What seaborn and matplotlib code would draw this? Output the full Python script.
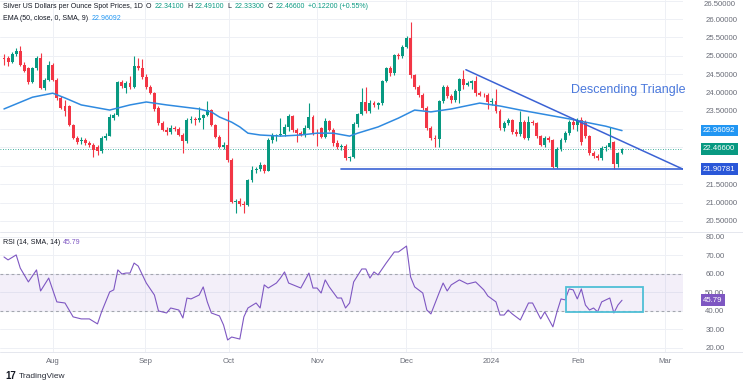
import numpy as np
import pandas as pd
import matplotlib
matplotlib.use('Agg')
import matplotlib.pyplot as plt
import matplotlib.transforms as mtransforms
from matplotlib.patches import Rectangle
import seaborn as sns

# daily candles, silver spot (XAGUSD), mid Jul 2023 -> 15 Feb 2024
opens = [24.93, 24.95, 24.83, 25.05, 25.12, 24.75, 24.66, 24.28, 24.66, 24.94,
         24.12, 24.34, 24.75, 24.34, 23.85, 23.62, 23.62, 23.11, 22.76, 22.68,
         22.70, 22.62, 22.57, 22.50, 22.40, 22.76, 22.82, 23.30, 23.38, 24.28,
         24.12, 24.25, 24.15, 24.72, 24.66, 24.42, 24.15, 23.98, 23.57, 23.17,
         22.98, 22.92, 23.03, 23.00, 22.84, 22.67, 23.25, 23.28, 23.24, 23.30,
         23.38, 23.52, 23.11, 22.79, 22.51, 22.58, 22.16, 21.01, 21.05, 20.97,
         20.93, 21.61, 21.89, 21.92, 22.02, 21.87, 22.70, 22.80, 22.84, 22.87,
         23.06, 23.35, 22.98, 22.90, 22.84, 23.03, 23.32, 22.90, 23.03, 22.78,
         23.22, 22.98, 22.62, 22.50, 22.55, 22.20, 22.24, 23.14, 23.41, 23.74,
         23.50, 23.72, 23.66, 23.70, 24.31, 24.66, 24.52, 25.02, 24.98, 25.24,
         25.48, 24.47, 24.15, 23.93, 23.58, 23.03, 22.76, 22.72, 23.77, 24.15,
         23.90, 23.80, 24.05, 24.36, 24.20, 24.25, 24.30, 23.98, 23.94, 23.92,
         23.74, 23.78, 23.50, 23.03, 23.17, 23.25, 22.92, 22.87, 23.20, 22.76,
         23.20, 23.17, 22.80, 22.57, 22.76, 22.70, 21.98, 22.47, 22.70, 22.90,
         23.20, 23.10, 23.24, 23.20, 22.80, 22.35, 22.28, 22.20, 22.48, 22.52,
         22.65, 22.05, 22.341]
highs = [25.05, 25.00, 25.10, 25.22, 25.26, 24.82, 24.70, 24.70, 25.00, 25.08,
         24.40, 24.85, 24.80, 24.40, 23.90, 23.80, 23.66, 23.15, 22.80, 22.78,
         22.75, 22.68, 22.62, 22.56, 22.80, 22.90, 23.40, 23.45, 24.32, 24.35,
         24.30, 24.45, 25.00, 24.95, 24.90, 24.50, 24.20, 24.02, 23.62, 23.22,
         23.05, 23.10, 23.08, 23.05, 22.90, 23.30, 23.35, 23.34, 23.60, 23.42,
         23.76, 23.55, 23.15, 22.85, 22.64, 23.50, 22.20, 21.10, 21.12, 21.05,
         21.65, 22.00, 21.98, 22.10, 22.05, 22.75, 22.90, 22.88, 23.30, 23.15,
         23.40, 23.38, 23.02, 22.95, 23.10, 23.72, 23.38, 23.00, 23.05, 23.30,
         23.25, 23.02, 22.70, 22.60, 22.60, 22.28, 23.20, 23.45, 24.12, 24.15,
         23.80, 23.78, 23.75, 24.35, 24.70, 24.72, 25.05, 25.08, 25.30, 25.55,
         25.92, 24.50, 24.20, 23.98, 23.62, 23.08, 22.85, 23.80, 24.20, 24.20,
         23.95, 24.10, 24.40, 24.62, 24.30, 24.35, 24.45, 24.05, 23.99, 23.98,
         23.85, 24.10, 23.55, 23.22, 23.30, 23.28, 23.00, 23.50, 23.25, 23.35,
         23.25, 23.20, 22.85, 22.80, 22.80, 22.72, 22.50, 22.75, 22.95, 23.25,
         23.30, 23.30, 23.32, 23.25, 22.85, 22.40, 22.33, 22.55, 22.58, 23.06,
         22.68, 22.38, 22.491]
lows = [24.75, 24.72, 24.80, 24.98, 24.72, 24.55, 24.22, 24.25, 24.60, 24.10,
        24.08, 24.30, 24.30, 23.80, 23.55, 23.35, 23.08, 22.72, 22.60, 22.60,
        22.58, 22.50, 22.24, 22.30, 22.35, 22.70, 22.80, 23.25, 23.36, 24.12,
        23.98, 24.10, 24.12, 24.60, 24.38, 24.10, 23.95, 23.50, 23.12, 22.95,
        22.85, 22.88, 22.95, 22.80, 22.35, 22.62, 23.18, 23.10, 23.20, 23.00,
        23.35, 23.08, 22.75, 22.48, 22.45, 22.10, 20.98, 20.71, 20.90, 20.72,
        20.90, 21.55, 21.80, 21.85, 21.80, 21.85, 22.62, 22.68, 22.80, 22.80,
        22.95, 22.92, 22.65, 22.80, 22.78, 23.00, 22.85, 22.55, 22.75, 22.75,
        22.95, 22.55, 22.45, 22.42, 22.15, 22.12, 22.20, 23.05, 23.38, 23.45,
        23.45, 23.60, 23.55, 23.65, 24.28, 24.45, 24.48, 24.92, 24.95, 25.20,
        24.40, 24.10, 23.88, 23.52, 22.98, 22.70, 22.51, 22.51, 23.70, 23.85,
        23.72, 23.75, 23.70, 24.10, 24.18, 24.10, 23.90, 23.90, 23.88, 23.55,
        23.65, 23.45, 22.98, 22.95, 23.10, 22.88, 22.80, 22.80, 22.72, 22.70,
        23.12, 22.75, 22.55, 22.50, 22.65, 21.94, 21.95, 22.40, 22.65, 22.85,
        23.00, 22.95, 22.58, 22.75, 22.30, 22.20, 22.15, 22.15, 22.40, 22.48,
        21.92, 21.98, 22.333]
closes = [24.90, 24.83, 25.05, 25.12, 24.75, 24.58, 24.28, 24.66, 24.94, 24.12,
          24.34, 24.75, 24.34, 23.85, 23.57, 23.50, 23.11, 22.76, 22.65, 22.70,
          22.62, 22.57, 22.43, 22.40, 22.76, 22.82, 23.33, 23.38, 24.28, 24.18,
          24.25, 24.15, 24.72, 24.66, 24.42, 24.15, 23.98, 23.55, 23.17, 22.98,
          22.92, 23.03, 23.00, 22.84, 22.67, 23.25, 23.28, 23.24, 23.30, 23.38,
          23.52, 23.11, 22.79, 22.51, 22.58, 22.16, 21.01, 21.05, 20.97, 20.93,
          21.61, 21.89, 21.92, 22.02, 21.87, 22.70, 22.80, 22.84, 22.87, 23.06,
          23.35, 22.98, 22.90, 22.84, 23.03, 23.32, 22.90, 22.89, 22.78, 23.22,
          22.98, 22.62, 22.50, 22.55, 22.20, 22.24, 23.14, 23.41, 23.74, 23.50,
          23.72, 23.66, 23.70, 24.31, 24.66, 24.52, 25.02, 24.98, 25.24, 25.48,
          24.47, 24.15, 23.93, 23.58, 23.03, 22.76, 22.72, 23.77, 24.15, 23.90,
          23.80, 24.05, 24.36, 24.20, 24.25, 24.30, 23.98, 23.94, 23.92, 23.74,
          23.78, 23.50, 23.03, 23.17, 23.25, 22.92, 22.87, 23.20, 22.76, 23.20,
          23.17, 22.80, 22.57, 22.76, 22.70, 21.98, 22.47, 22.70, 22.90, 23.20,
          23.10, 23.24, 22.65, 22.80, 22.35, 22.28, 22.20, 22.48, 22.52, 22.62,
          22.05, 22.34, 22.466]

# EMA 50 (bar index, value)
ema_bar = [0, 7, 12, 15, 19, 26, 31, 35, 40, 48, 51, 53, 56, 58, 60, 63, 68, 73,
           77, 81, 85, 87, 92, 97, 101, 105, 110, 117, 122, 127, 134, 139, 143,
           148, 152]
ema_val = [23.55, 23.87, 23.98, 23.85, 23.66, 23.52, 23.66, 23.74, 23.66, 23.55,
           23.47, 23.33, 23.19, 23.06, 22.89, 22.84, 22.81, 22.84, 22.89, 22.89,
           22.81, 22.89, 23.06, 23.30, 23.52, 23.47, 23.55, 23.71, 23.63, 23.52,
           23.38, 23.28, 23.19, 23.08, 22.96]

# RSI 14 (bar index, value)
rsi_bar = [0, 1, 3, 4, 6, 8, 9, 11, 13, 15, 17, 19, 21, 23, 24, 26, 27, 28, 29,
           30, 31, 32, 33, 35, 37, 38, 40, 41, 43, 44, 45, 46, 48, 49, 50, 51,
           53, 54, 55, 56, 58, 59, 60, 62, 63, 64, 65, 67, 68, 69, 70, 73, 75,
           76, 77, 78, 79, 80, 82, 83, 84, 85, 86, 88, 89, 90, 91, 92, 94, 96,
           97, 99, 100, 101, 103, 104, 105, 107, 108, 109, 110, 112, 114, 116,
           118, 119, 121, 122, 123, 124, 125, 127, 129, 130, 132, 133, 135, 136,
           137, 138, 139, 140, 141, 142, 143, 144, 145, 146, 147, 149, 150, 151,
           152]
rsi_val = [69.2, 67.6, 70.3, 63.2, 55.7, 62.2, 50.8, 57.8, 44.9, 44.3, 36.8, 35.7,
           35.7, 33.0, 39.5, 50.3, 51.4, 62.2, 60.0, 60.5, 60.5, 65.9, 64.3, 55.1,
           48.6, 40.0, 38.9, 41.6, 40.5, 36.2, 47.0, 46.5, 48.6, 53.0, 44.9, 38.9,
           37.3, 32.4, 24.3, 25.9, 24.8, 36.8, 41.6, 44.3, 41.6, 54.1, 52.4, 55.1,
           57.8, 61.1, 55.1, 52.4, 60.5, 52.4, 52.4, 49.7, 56.8, 53.0, 47.0, 47.0,
           41.6, 44.3, 55.7, 62.7, 62.7, 57.8, 61.1, 59.5, 65.9, 71.9, 71.9, 75.1,
           58.4, 53.0, 49.7, 40.5, 38.4, 49.7, 55.1, 50.8, 54.1, 56.8, 54.6, 55.7,
           51.4, 48.1, 44.9, 37.8, 37.8, 40.5, 38.4, 35.1, 44.3, 44.3, 35.7, 39.5,
           31.4, 39.5, 46.5, 46.0, 51.9, 51.4, 46.5, 51.9, 43.2, 40.5, 41.6, 39.5,
           44.9, 47.0, 38.9, 43.2, 45.79]

month_labels = ['Aug', 'Sep', 'Oct', 'Nov', 'Dec', '2024', 'Feb', 'Mar']
month_bar = [12, 34.7, 55.3, 77, 98.9, 119.8, 141.2, 162.6]

# drawn annotations
triangle_x = [113.6, 167.0]
triangle_y = [24.62, 21.908]
support_x = [83.0, 167.0]
support_y = [21.90781, 21.90781]
rsi_box = (138.2, 39.5, 19.0, 13.5)  # bar, rsi, width, height

last_close = 22.466
ema_last = 22.96092
rsi_last = 45.79

UP = '#089981'
DOWN = '#f23645'
EMA_C = '#2f8ae0'
LINE_C = '#3b62d4'
RSI_C = '#7e57c2'
GRID = '#eef0f5'
TXT = '#6a6d78'
DARK = '#131722'

sns.set_theme(style='white')
plt.rcParams['font.family'] = ['Liberation Sans', 'DejaVu Sans']

W, H = 743, 380
fig = plt.figure(figsize=(W / 100, H / 100), dpi=100)


def box(x0, y0, x1, y1):
    return [x0 / W, 1 - y1 / H, (x1 - x0) / W, (y1 - y0) / H]


ax = fig.add_axes(box(0, 0, 683, 232))
ax2 = fig.add_axes(box(0, 232, 683, 352), sharex=ax)

df = pd.DataFrame({'open': opens, 'high': highs, 'low': lows, 'close': closes})
df['bar'] = np.arange(len(df))
col = np.where(df['close'] >= df['open'], UP, DOWN)

# candles
ax.vlines(df['bar'], df['low'], df['high'], colors=col, lw=0.8, zorder=3)
body = (df['close'] - df['open']).abs().clip(lower=0.015)
ax.bar(df['bar'], body, bottom=np.minimum(df['open'], df['close']),
       width=0.72, color=col, linewidth=0, zorder=4)

ema = pd.DataFrame({'bar': ema_bar, 'ema': ema_val})
sns.lineplot(data=ema, x='bar', y='ema', ax=ax, color=EMA_C, lw=1.1, zorder=5)

ax.axhline(last_close, color=UP, lw=0.6, ls=(0, (1, 2)), zorder=2)
ax.plot(triangle_x, triangle_y, color=LINE_C, lw=1.1, zorder=6)
ax.plot(support_x, support_y, color=LINE_C, lw=1.2, zorder=6)
ax.text(153.5, 24.07, 'Descending Triangle', color='#4a78dc', fontsize=9,
        ha='center', va='center')

ax.set_xlim(-0.98, 167.0)
ax.set_ylim(20.196, 26.52)
pticks = np.arange(20.5, 26.01, 0.5)
ax.set_yticks(pticks)
ax.set_yticklabels(['' if round(t, 1) in (22.0, 22.5, 23.0) else '%.5f' % t
                    for t in pticks])
ax.yaxis.tick_right()
ax.tick_params(axis='y', length=0, pad=16, labelsize=5.6, labelcolor=TXT)
ax.axhline(26.5, color=GRID, lw=0.7)
# top scale label sits just inside the figure edge
fig.text(704 / W, 1 - 4 / H, '26.50000', fontsize=5.6, color=TXT, va='center')
ax.set_xticks(month_bar)
ax.tick_params(axis='x', length=0, labelbottom=False)
ax.grid(True, color=GRID, lw=0.7)
ax.set_xlabel('')
ax.set_ylabel('')

# RSI pane
rsi = pd.DataFrame({'bar': rsi_bar, 'rsi': rsi_val})
ax2.axhspan(40, 60, color=RSI_C, alpha=0.09, lw=0)
for lvl in (40, 60):
    ax2.axhline(lvl, color='#a3a6af', lw=0.8, ls=(0, (2.5, 2.5)))
sns.lineplot(data=rsi, x='bar', y='rsi', ax=ax2, color=RSI_C, lw=0.8, zorder=5)
ax2.add_patch(Rectangle(rsi_box[:2], rsi_box[2], rsi_box[3], fill=False,
                        ec='#4fbfd6', lw=1.3, zorder=6))
ax2.set_ylim(17.8, 82.7)
rticks = [20, 30, 40, 50, 60, 70, 80]
ax2.set_yticks(rticks)
ax2.set_yticklabels(['%.2f' % t for t in rticks])
ax2.yaxis.tick_right()
ax2.tick_params(axis='y', length=0, pad=16, labelsize=5.6, labelcolor=TXT)
ax2.set_xticks(month_bar)
ax2.set_xticklabels(month_labels)
ax2.tick_params(axis='x', length=0, pad=4, labelsize=5.6, labelcolor=TXT)
ax2.grid(True, color=GRID, lw=0.7)
ax2.set_xlabel('')
ax2.set_ylabel('')

for a in (ax, ax2):
    for s in a.spines.values():
        s.set_visible(False)

# pane borders
for yy in (232, 352):
    fig.add_artist(plt.Line2D([0, 1], [1 - yy / H] * 2, color='#e0e3eb', lw=0.6))


def tag(a, y, text, bg):
    tr = mtransforms.blended_transform_factory(a.transAxes, a.transData)
    a.text(1 + 20 / 683, y, text, transform=tr, ha='left', va='center',
           fontsize=5.6, color='white', clip_on=False, zorder=10,
           bbox=dict(boxstyle='square,pad=0.3', fc=bg, ec='none'))


tag(ax, ema_last, '%.5f' % ema_last, '#2196f3')
tag(ax, last_close, '%.5f' % last_close, UP)
tag(ax, 21.90781, '21.90781', '#2a57d8')
tag(ax2, rsi_last, '%.2f' % rsi_last, RSI_C)

# header texts, placed piece by piece
renderer = fig.canvas.get_renderer()


def header(pieces, x, y, size=5.0):
    for txt, c in pieces:
        t = fig.text(x / W, 1 - y / H, txt, color=c, fontsize=size,
                     ha='left', va='center')
        x += t.get_window_extent(renderer).width + 3


header([('Silver US Dollars per Ounce Spot Prices, 1D', DARK),
        ('O', DARK), ('22.34100', UP), ('H', DARK), ('22.49100', UP),
        ('L', DARK), ('22.33300', UP), ('C', DARK), ('22.46600', UP),
        ('+0.12200 (+0.55%)', UP)], 3, 7)
header([('EMA (50, close, 0, SMA, 9)', DARK), ('%.5f' % ema_last, '#2196f3')], 3, 19)
header([('RSI (14, SMA, 14)', DARK), ('%.2f' % rsi_last, RSI_C)], 3, 242)

fig.text(5 / W, 1 - 376 / H, '17', fontsize=7, fontweight='bold', color=DARK,
         va='center')
fig.text(19 / W, 1 - 376 / H, 'TradingView', fontsize=6, color='#2a2e39',
         va='center')

fig.savefig('out.png', dpi=100, facecolor='white')
